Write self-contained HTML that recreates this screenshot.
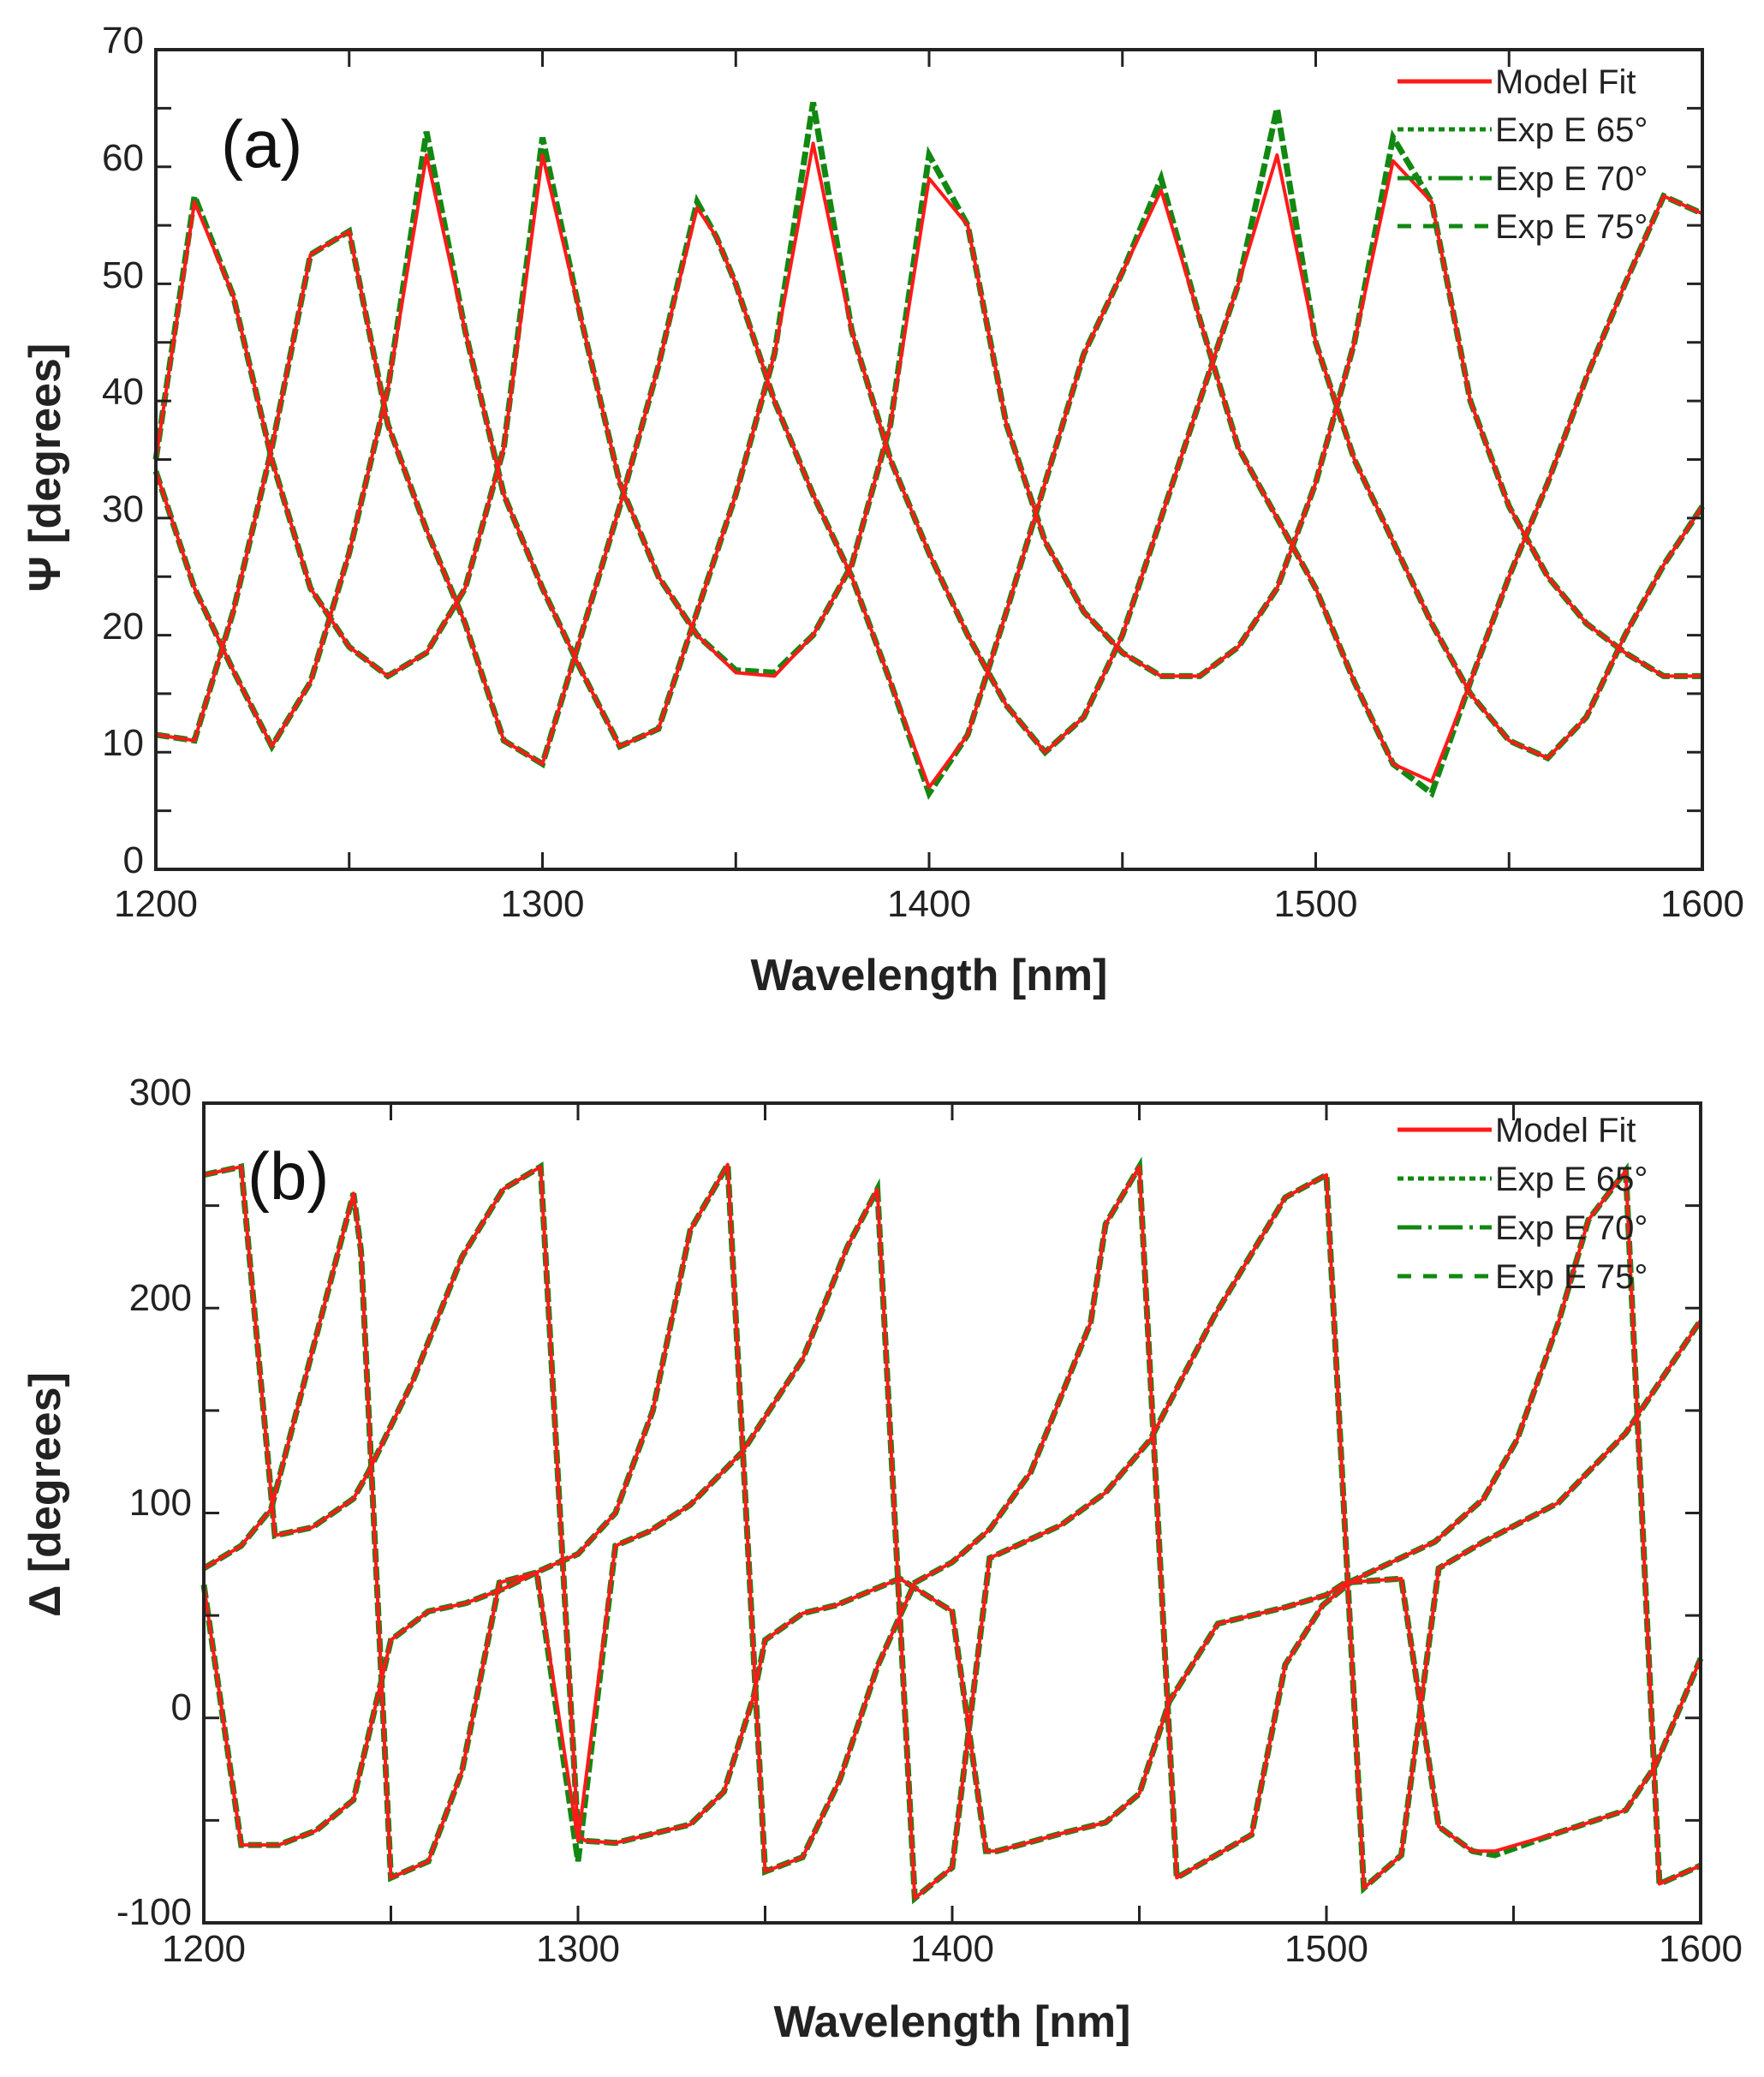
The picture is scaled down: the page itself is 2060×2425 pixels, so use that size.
<!DOCTYPE html>
<html><head><meta charset="utf-8"><style>
html,body{margin:0;padding:0;background:#fff;}
svg{display:block;}
text{font-family:"Liberation Sans",Arial,sans-serif;}
.tk{font-size:44px;fill:#222;}
.lg{font-size:40px;fill:#222;}
.ti{font-size:52px;font-weight:bold;fill:#222;}
.r{fill:none;stroke:#ff1a1a;stroke-width:4;vector-effect:non-scaling-stroke;stroke-linejoin:round;}
.g{fill:none;stroke:#118811;stroke-width:7;vector-effect:non-scaling-stroke;stroke-dasharray:16 5;}
.ax{fill:none;stroke:#222;stroke-width:4;}
.t{stroke:#222;stroke-width:3;}
</style></head><body>
<svg width="2060" height="2425" viewBox="0 0 2060 2425" xmlns="http://www.w3.org/2000/svg">
<rect width="2060" height="2425" fill="#fff"/>

<!-- ===== Panel (a) ===== -->
<g transform="matrix(4.515 0 0 -13.671 -5236 1015)">
 <polyline class="g" points="1200,35 1210,57.5 1220,49 1230,35 1240,24 1250,19 1260,16.5 1270,18.5 1280,24 1290,36 1300,62.5 1310,47 1320,33 1330,25 1340,20 1350,17 1360,16.8 1370,20 1380,26 1390,38 1400,61 1410,55 1420,38 1430,28 1440,22 1450,18.5 1460,16.5 1470,16.5 1480,19 1490,24 1500,33 1510,45 1520,62.5 1530,57 1540,40 1550,31 1560,25 1570,21 1580,18.5 1590,16.5 1600,16.5"/>
 <polyline class="g" points="1200,34 1210,24 1220,17 1230,10.5 1240,16 1250,27 1260,41 1270,63 1280,46 1290,32 1300,24 1310,17 1320,10.5 1330,12 1340,22 1350,32 1360,44 1370,65.5 1380,46 1390,35 1400,27 1410,20 1420,14 1430,10 1440,13 1450,20 1460,30 1470,40 1480,50 1490,65 1500,45 1510,35 1520,28 1530,21 1540,15 1550,11 1560,9.5 1570,13 1580,20 1590,26 1600,31"/>
 <polyline class="g" points="1200,11.5 1210,11 1220,22 1230,36 1240,52.5 1250,54.5 1260,38 1270,29 1280,21 1290,11 1300,9 1310,20 1320,31 1330,43 1340,57 1345,54 1350,50 1360,40 1370,32 1380,25 1390,16 1400,6.5 1410,11.5 1420,22 1430,33 1440,44 1450,51 1460,59 1470,47 1480,36 1490,30 1500,24 1510,16 1520,9 1530,6.5 1540,16 1550,25 1560,33 1570,42 1580,50 1590,57.5 1600,56"/>
 <polyline class="r" points="1200,35 1210,57 1220,49 1230,35 1240,24 1250,19 1260,16.5 1270,18.5 1280,24 1290,36 1300,61 1310,47 1320,33 1330,25 1340,20 1350,16.8 1360,16.5 1370,20 1380,26 1390,38 1400,59 1410,55 1420,38 1430,28 1440,22 1450,18.5 1460,16.5 1470,16.5 1480,19 1490,24 1500,33 1510,45 1520,60.5 1530,57 1540,40 1550,31 1560,25 1570,21 1580,18.5 1590,16.5 1600,16.5"/>
 <polyline class="r" points="1200,34 1210,24 1220,17 1230,10.5 1240,16 1250,27 1260,41 1270,61 1280,46 1290,32 1300,24 1310,17 1320,10.5 1330,12 1340,22 1350,32 1360,44 1370,62 1380,46 1390,35 1400,27 1410,20 1420,14 1430,10 1440,13 1450,20 1460,30 1470,40 1480,50 1490,61 1500,45 1510,35 1520,28 1530,21 1540,15 1550,11 1560,9.5 1570,13 1580,20 1590,26 1600,31"/>
 <polyline class="r" points="1200,11.5 1210,11 1220,22 1230,36 1240,52.5 1250,54.5 1260,38 1270,29 1280,21 1290,11 1300,9 1310,20 1320,31 1330,43 1340,56.5 1345,54 1350,50 1360,40 1370,32 1380,25 1390,16 1400,7 1410,11.5 1420,22 1430,33 1440,44 1450,51 1460,58 1470,47 1480,36 1490,30 1500,24 1510,16 1520,9 1530,7.5 1540,16 1550,25 1560,33 1570,42 1580,50 1590,57.5 1600,56"/>
</g>
<rect class="ax" x="182" y="58" width="1806" height="957"/>
<g class="t">
 <line x1="407.75" y1="1015" x2="407.75" y2="995"/><line x1="633.5" y1="1015" x2="633.5" y2="995"/><line x1="859.25" y1="1015" x2="859.25" y2="995"/><line x1="1085" y1="1015" x2="1085" y2="995"/><line x1="1310.75" y1="1015" x2="1310.75" y2="995"/><line x1="1536.5" y1="1015" x2="1536.5" y2="995"/><line x1="1762.25" y1="1015" x2="1762.25" y2="995"/>
 <line x1="407.75" y1="58" x2="407.75" y2="78"/><line x1="633.5" y1="58" x2="633.5" y2="78"/><line x1="859.25" y1="58" x2="859.25" y2="78"/><line x1="1085" y1="58" x2="1085" y2="78"/><line x1="1310.75" y1="58" x2="1310.75" y2="78"/><line x1="1536.5" y1="58" x2="1536.5" y2="78"/><line x1="1762.25" y1="58" x2="1762.25" y2="78"/>
 <line x1="182" y1="126.4" x2="200" y2="126.4"/><line x1="182" y1="194.7" x2="200" y2="194.7"/><line x1="182" y1="263.1" x2="200" y2="263.1"/><line x1="182" y1="331.4" x2="200" y2="331.4"/><line x1="182" y1="399.8" x2="200" y2="399.8"/><line x1="182" y1="468.1" x2="200" y2="468.1"/><line x1="182" y1="536.5" x2="200" y2="536.5"/><line x1="182" y1="604.9" x2="200" y2="604.9"/><line x1="182" y1="673.2" x2="200" y2="673.2"/><line x1="182" y1="741.6" x2="200" y2="741.6"/><line x1="182" y1="809.9" x2="200" y2="809.9"/><line x1="182" y1="878.3" x2="200" y2="878.3"/><line x1="182" y1="946.6" x2="200" y2="946.6"/>
 <line x1="1988" y1="126.4" x2="1970" y2="126.4"/><line x1="1988" y1="194.7" x2="1970" y2="194.7"/><line x1="1988" y1="263.1" x2="1970" y2="263.1"/><line x1="1988" y1="331.4" x2="1970" y2="331.4"/><line x1="1988" y1="399.8" x2="1970" y2="399.8"/><line x1="1988" y1="468.1" x2="1970" y2="468.1"/><line x1="1988" y1="536.5" x2="1970" y2="536.5"/><line x1="1988" y1="604.9" x2="1970" y2="604.9"/><line x1="1988" y1="673.2" x2="1970" y2="673.2"/><line x1="1988" y1="741.6" x2="1970" y2="741.6"/><line x1="1988" y1="809.9" x2="1970" y2="809.9"/><line x1="1988" y1="878.3" x2="1970" y2="878.3"/><line x1="1988" y1="946.6" x2="1970" y2="946.6"/>
</g>
<g class="tk" text-anchor="end">
 <text x="168" y="62">70</text><text x="168" y="199">60</text><text x="168" y="336">50</text><text x="168" y="472">40</text><text x="168" y="609">30</text><text x="168" y="746">20</text><text x="168" y="882">10</text><text x="168" y="1019">0</text>
</g>
<g class="tk" text-anchor="middle">
 <text x="182" y="1070">1200</text><text x="633.5" y="1070">1300</text><text x="1085" y="1070">1400</text><text x="1536.5" y="1070">1500</text><text x="1988" y="1070">1600</text>
</g>
<text class="ti" x="1085" y="1156" text-anchor="middle">Wavelength [nm]</text>
<text class="ti" transform="translate(70,546) rotate(-90)" text-anchor="middle">Ψ [degrees]</text>
<text x="258" y="195" style="font-size:78px;fill:#111">(a)</text>
<g>
 <line x1="1632" y1="95" x2="1742" y2="95" stroke="#ff1a1a" stroke-width="5"/>
 <line x1="1632" y1="151" x2="1742" y2="151" stroke="#118811" stroke-width="5" stroke-dasharray="7 5"/>
 <line x1="1632" y1="208" x2="1742" y2="208" stroke="#118811" stroke-width="5" stroke-dasharray="28 8 4 8"/>
 <line x1="1632" y1="264" x2="1742" y2="264" stroke="#118811" stroke-width="5" stroke-dasharray="16 14"/>
 <g class="lg"><text x="1746" y="109">Model Fit</text><text x="1746" y="165">Exp E 65°</text><text x="1746" y="222">Exp E 70°</text><text x="1746" y="278">Exp E 75°</text></g>
</g>

<!-- ===== Panel (b) ===== -->
<g transform="matrix(4.37 0 0 -2.3925 -5006 2005.75)">
 <polyline class="g" points="1200,265 1210,269 1219,89 1229,93 1240,107 1244,120 1256,165 1269,225 1280,258 1290,269 1300,-57 1302,-60 1310,-61 1330,-52 1339,-36 1347,11 1350,38 1360,51 1369,55 1386,68 1400,52 1409,-65 1412,-65 1430,-56 1441,-51 1450,-37 1458,8 1471,46 1489,54 1500,60 1505,66 1520,68 1530,-53 1539,-65 1545,-67 1562,-56 1580,-45 1588,-23 1600,29"/>
 <polyline class="g" points="1200,73 1210,84 1218,102 1240,256 1242,228 1250,-78 1260,-70 1269,-26 1279,66 1289,71 1300,-70 1310,84 1319,91 1330,104 1344,130 1360,175 1372,230 1380,258 1390,-88 1400,-73 1410,78 1429,94 1441,110 1453,136 1470,196 1489,254 1500,265 1510,-83 1520,-67 1530,73 1542,86 1562,105 1580,139 1600,194"/>
 <polyline class="g" points="1200,65 1210,-62 1220,-62 1230,-55 1240,-40 1250,38 1260,52 1270,56 1280,63 1290,72 1300,80 1310,100 1320,150 1330,238 1340,270 1350,-75 1360,-68 1370,-30 1380,25 1390,66 1400,76 1410,92 1421,120 1437,193 1441,241 1450,269 1460,-78 1480,-57 1489,26 1499,55 1507,67 1529,86 1542,107 1551,136 1562,193 1570,243 1580,267 1589,-81 1600,-72"/>
 <polyline class="r" points="1200,265 1210,269 1219,89 1229,93 1240,107 1244,120 1256,165 1269,225 1280,258 1290,269 1300,-57 1302,-60 1310,-61 1330,-52 1339,-36 1347,11 1350,38 1360,51 1369,55 1386,68 1400,52 1409,-65 1412,-65 1430,-56 1441,-51 1450,-37 1458,8 1471,46 1489,54 1500,60 1505,66 1520,68 1530,-53 1539,-65 1545,-65 1562,-56 1580,-45 1588,-23 1600,29"/>
 <polyline class="r" points="1200,73 1210,84 1218,102 1240,256 1242,228 1250,-78 1260,-70 1269,-26 1279,66 1289,71 1300,-60 1310,84 1319,91 1330,104 1344,130 1360,175 1372,230 1380,258 1390,-88 1400,-73 1410,78 1429,94 1441,110 1453,136 1470,196 1489,254 1500,265 1510,-83 1520,-67 1530,73 1542,86 1562,105 1580,139 1600,194"/>
 <polyline class="r" points="1200,65 1210,-62 1220,-62 1230,-55 1240,-40 1250,38 1260,52 1270,56 1280,63 1290,72 1300,80 1310,100 1320,150 1330,238 1340,270 1350,-75 1360,-68 1370,-30 1380,25 1390,66 1400,76 1410,92 1421,120 1437,193 1441,241 1450,269 1460,-78 1480,-57 1489,26 1499,55 1507,67 1529,86 1542,107 1551,136 1562,193 1570,243 1580,267 1589,-81 1600,-72"/>
</g>
<rect class="ax" x="238" y="1288" width="1748" height="957"/>
<g class="t">
 <line x1="456.5" y1="2245" x2="456.5" y2="2225"/><line x1="675" y1="2245" x2="675" y2="2225"/><line x1="893.5" y1="2245" x2="893.5" y2="2225"/><line x1="1112" y1="2245" x2="1112" y2="2225"/><line x1="1330.5" y1="2245" x2="1330.5" y2="2225"/><line x1="1549" y1="2245" x2="1549" y2="2225"/><line x1="1767.5" y1="2245" x2="1767.5" y2="2225"/>
 <line x1="456.5" y1="1288" x2="456.5" y2="1308"/><line x1="675" y1="1288" x2="675" y2="1308"/><line x1="893.5" y1="1288" x2="893.5" y2="1308"/><line x1="1112" y1="1288" x2="1112" y2="1308"/><line x1="1330.5" y1="1288" x2="1330.5" y2="1308"/><line x1="1549" y1="1288" x2="1549" y2="1308"/><line x1="1767.5" y1="1288" x2="1767.5" y2="1308"/>
 <line x1="238" y1="1407.6" x2="256" y2="1407.6"/><line x1="238" y1="1527.3" x2="256" y2="1527.3"/><line x1="238" y1="1646.9" x2="256" y2="1646.9"/><line x1="238" y1="1766.5" x2="256" y2="1766.5"/><line x1="238" y1="1886.1" x2="256" y2="1886.1"/><line x1="238" y1="2005.8" x2="256" y2="2005.8"/><line x1="238" y1="2125.4" x2="256" y2="2125.4"/>
 <line x1="1986" y1="1407.6" x2="1968" y2="1407.6"/><line x1="1986" y1="1527.3" x2="1968" y2="1527.3"/><line x1="1986" y1="1646.9" x2="1968" y2="1646.9"/><line x1="1986" y1="1766.5" x2="1968" y2="1766.5"/><line x1="1986" y1="1886.1" x2="1968" y2="1886.1"/><line x1="1986" y1="2005.8" x2="1968" y2="2005.8"/><line x1="1986" y1="2125.4" x2="1968" y2="2125.4"/>
</g>
<g class="tk" text-anchor="end">
 <text x="224" y="1290">300</text><text x="224" y="1530">200</text><text x="224" y="1769">100</text><text x="224" y="2008">0</text><text x="224" y="2247">-100</text>
</g>
<g class="tk" text-anchor="middle">
 <text x="238" y="2290">1200</text><text x="675" y="2290">1300</text><text x="1112" y="2290">1400</text><text x="1549" y="2290">1500</text><text x="1986" y="2290">1600</text>
</g>
<text class="ti" x="1112" y="2378" text-anchor="middle">Wavelength [nm]</text>
<text class="ti" transform="translate(70,1745) rotate(-90)" text-anchor="middle">Δ [degrees]</text>
<text x="289" y="1400" style="font-size:78px;fill:#111">(b)</text>
<g>
 <line x1="1632" y1="1319" x2="1742" y2="1319" stroke="#ff1a1a" stroke-width="5"/>
 <line x1="1632" y1="1376" x2="1742" y2="1376" stroke="#118811" stroke-width="5" stroke-dasharray="7 5"/>
 <line x1="1632" y1="1433" x2="1742" y2="1433" stroke="#118811" stroke-width="5" stroke-dasharray="28 8 4 8"/>
 <line x1="1632" y1="1490" x2="1742" y2="1490" stroke="#118811" stroke-width="5" stroke-dasharray="16 14"/>
 <g class="lg"><text x="1746" y="1333">Model Fit</text><text x="1746" y="1390">Exp E 65°</text><text x="1746" y="1447">Exp E 70°</text><text x="1746" y="1504">Exp E 75°</text></g>
</g>
</svg>
</body></html>
